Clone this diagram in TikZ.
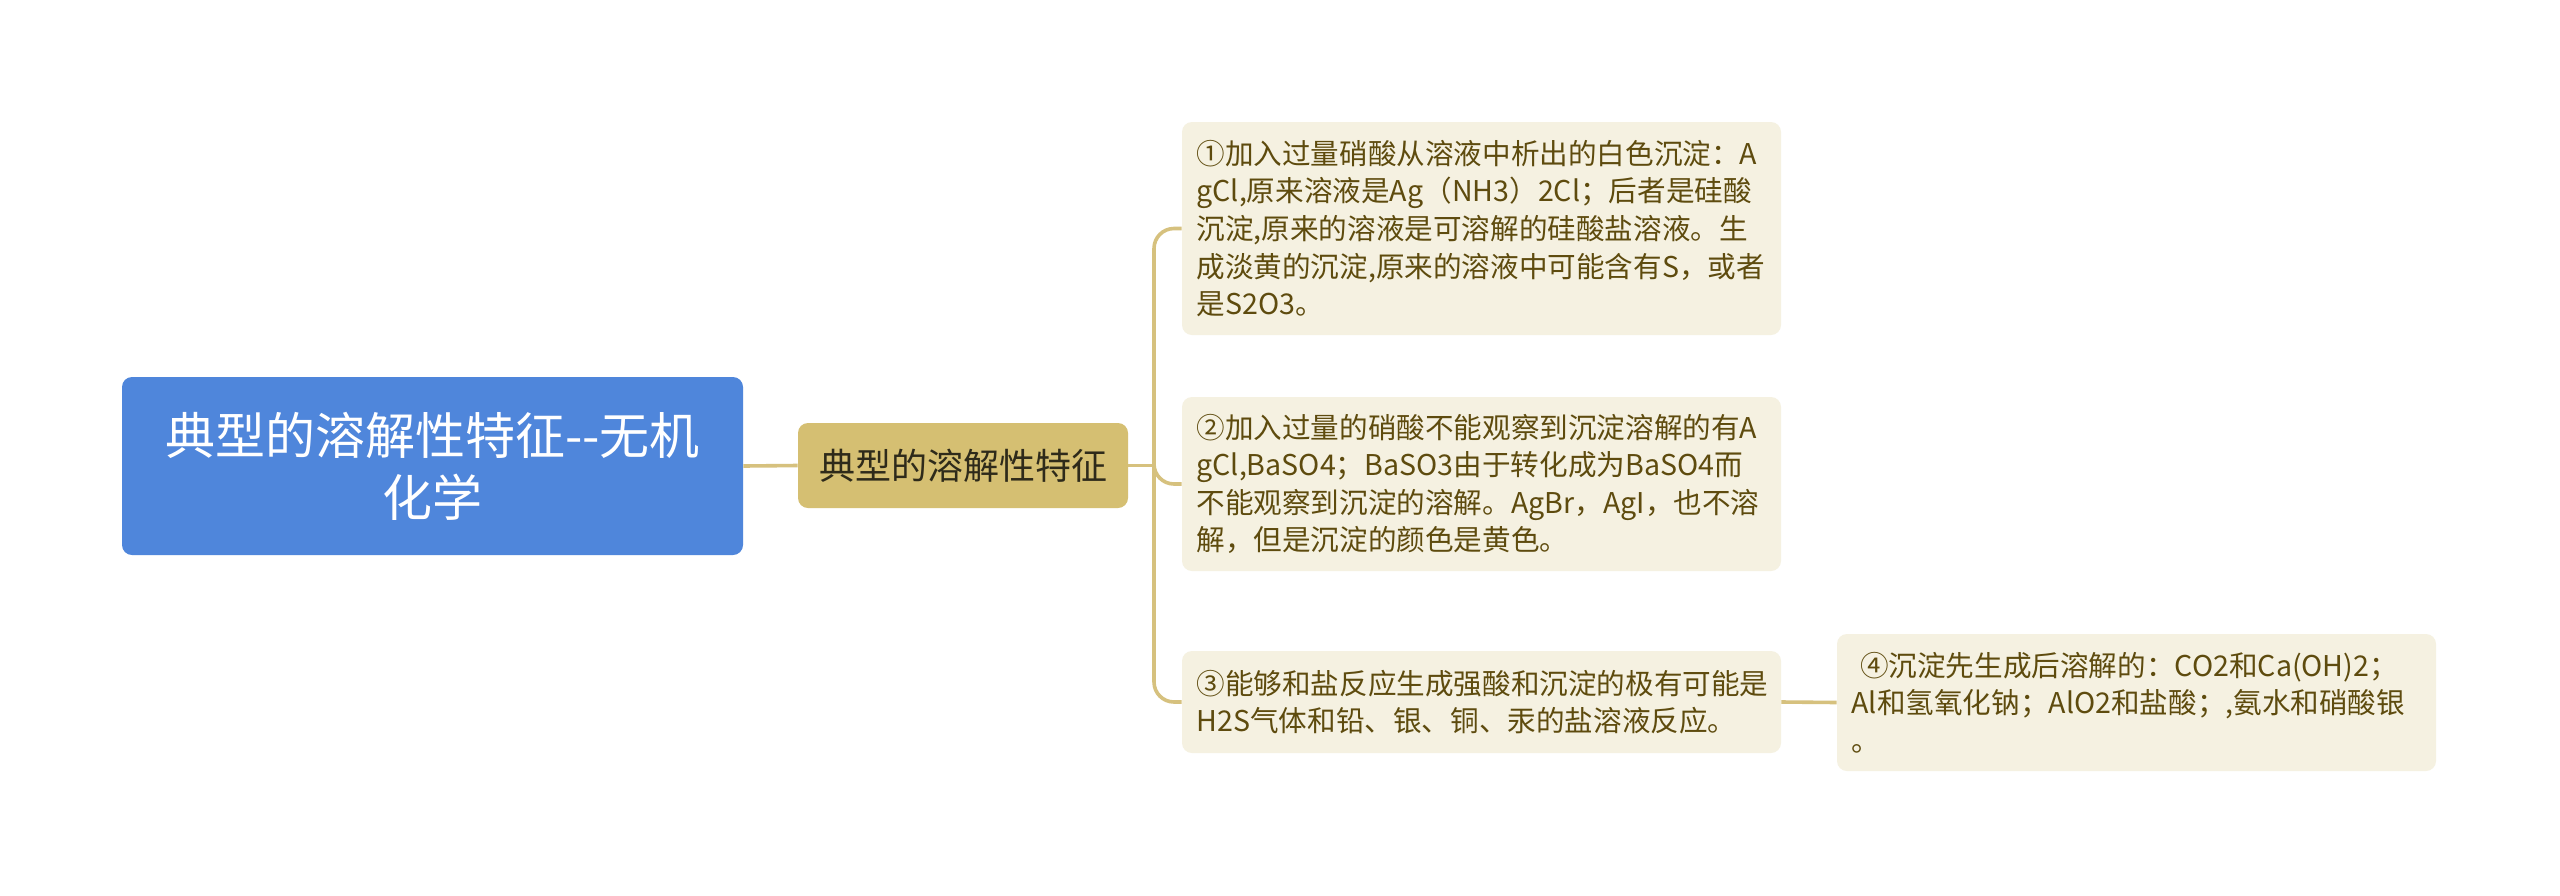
\documentclass[tikz,border=0pt]{standalone}
\usepackage{fontspec}
\setmainfont{Noto Sans CJK SC}
\definecolor{rootblue}{HTML}{4F86DB}
\definecolor{tan}{HTML}{D5BF72}
\definecolor{linetan}{HTML}{D6C17E}
\definecolor{cream}{HTML}{F5F1E1}
\definecolor{olive}{HTML}{5E4B0E}
\definecolor{darktext}{HTML}{2E2A1A}
\tikzset{
  rootbox/.style={fill=rootblue, draw=none, rounded corners=5pt, text=white,
    font=\fontsize{25}{31}\selectfont, align=center, inner sep=0pt,
    minimum width=310.5pt, minimum height=89pt},
  midbox/.style={fill=tan, draw=none, rounded corners=5pt, text=darktext,
    font=\fontsize{18}{22}\selectfont, align=center, inner sep=0pt,
    minimum width=165pt, minimum height=42.5pt},
  leafbox/.style={fill=cream, draw=none, rounded corners=5pt, text=olive,
    font=\fontsize{14.3}{18.8}\selectfont, align=left, text width=285pt,
    inner xsep=7.25pt, inner ysep=0pt},
  conn/.style={draw=linetan, line width=1.8pt},
}
\begin{document}
\begin{tikzpicture}[x=0.5pt, y=-0.5pt]
\useasboundingbox[fill=white] (0,0) rectangle (2560,895);
\node[rootbox] (root) at (432.5,466) {典型的溶解性特征-{}-无机\\化学};
\node[midbox] (mid) at (963,465.5) {典型的溶解性特征};
\node[leafbox, minimum height=106.5pt] (c1) at (1481.5,228.5) {①加入过量硝酸从溶液中析出的白色沉淀：A\\gCl,原来溶液是Ag（NH3）2Cl；后者是硅酸\\沉淀,原来的溶液是可溶解的硅酸盐溶液。生\\成淡黄的沉淀,原来的溶液中可能含有S，或者\\是S2O3。};
\node[leafbox, minimum height=87pt] (c2) at (1481.5,484) {②加入过量的硝酸不能观察到沉淀溶解的有A\\gCl,BaSO4；BaSO3由于转化成为BaSO4而\\不能观察到沉淀的溶解。AgBr，AgI，也不溶\\解，但是沉淀的颜色是黄色。};
\node[leafbox, minimum height=51pt] (c3) at (1481.5,702) {③能够和盐反应生成强酸和沉淀的极有可能是\\H2S气体和铅、银、铜、汞的盐溶液反应。};
\node[leafbox, minimum height=68.5pt] (c4) at (2136.5,702.5) {\hspace{0.3em}④沉淀先生成后溶解的：CO2和Ca(OH)2；\\Al和氢氧化钠；AlO2和盐酸；,氨水和硝酸银\\。};
\coordinate (sp) at (1154,465.5);
\draw[conn] (root.east) -- (mid.west);
\draw[conn] (mid.east) -- (sp);
\draw[conn, rounded corners=10pt] (sp) |- (c1.west);
\draw[conn, rounded corners=10pt] (sp) |- (c2.west);
\draw[conn, rounded corners=10pt] (sp) |- (c3.west);
\draw[conn] (c3.east) -- (c4.west);
\end{tikzpicture}
\end{document}
